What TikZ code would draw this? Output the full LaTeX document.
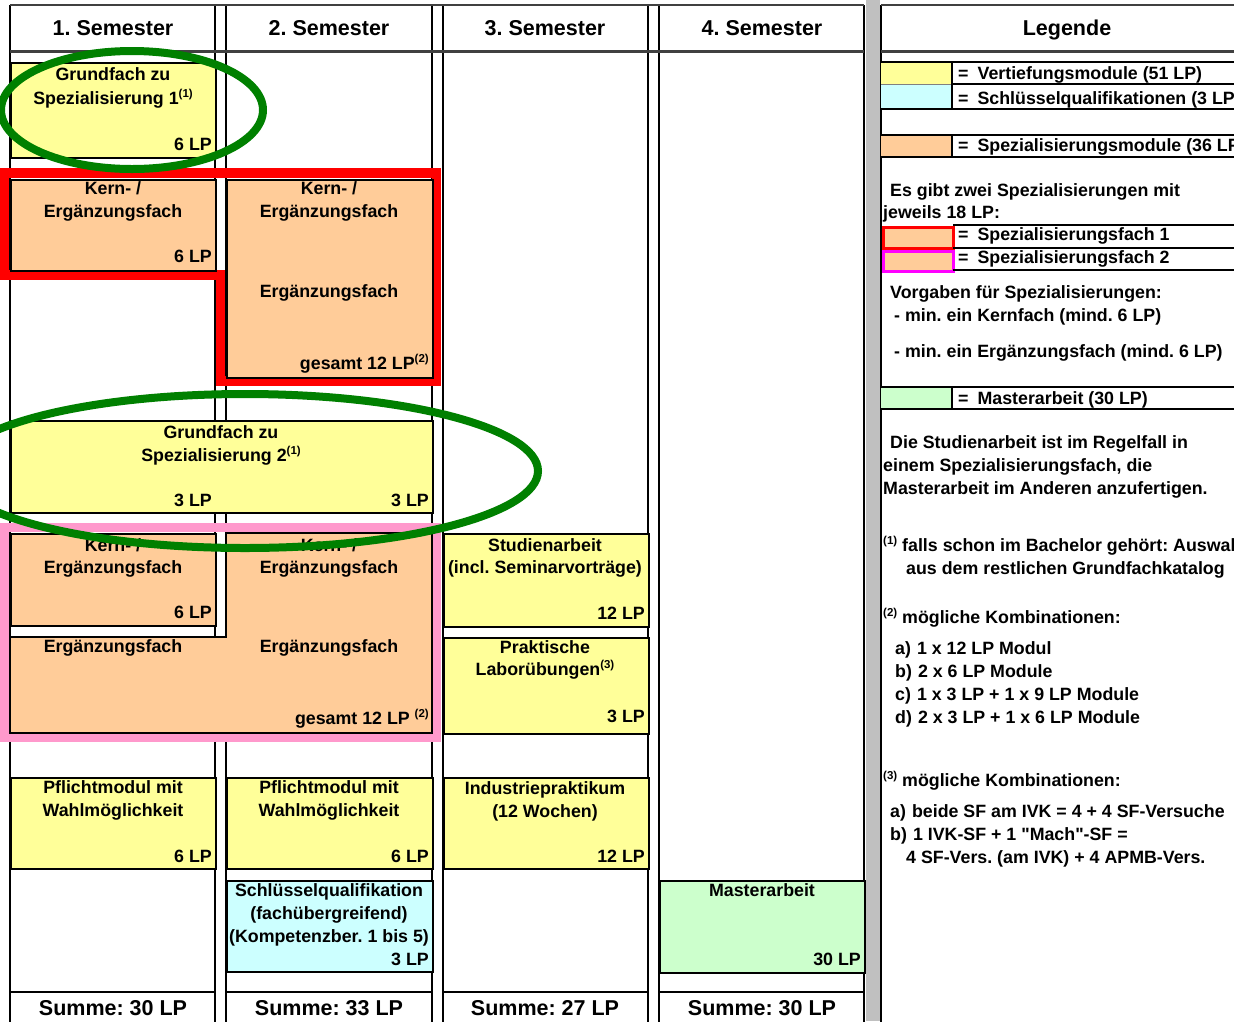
\documentclass[tikz,border=0pt]{standalone}
\usepackage{fontspec}
\setmainfont{Liberation Sans}
\definecolor{ye}{HTML}{FFFF99}
\definecolor{orf}{HTML}{FFCC99}
\definecolor{cyf}{HTML}{CCFFFF}
\definecolor{grf}{HTML}{CCFFCC}
\definecolor{pk}{HTML}{FF99CC}
\definecolor{mg}{HTML}{FF00FF}
\definecolor{dg}{HTML}{008000}
\definecolor{gb}{HTML}{C0C0C0}
\definecolor{hl}{HTML}{404040}
\newcommand{\fnm}[1]{\raisebox{7pt}{\fontsize{11.5}{12}\selectfont(#1)}}
\newcommand{\strq}{\XeTeXglyph\XeTeXcharglyph34\relax}
\frenchspacing
\begin{document}
\begin{tikzpicture}[x=1pt,y=-1pt,
 colline/.style={line width=2pt, draw=black},
 hline/.style={line width=2.5pt, draw=hl},
 box/.style={draw=black, line width=2.4pt, inner sep=0pt, anchor=north west},
 sw/.style={draw=none, inner sep=0pt, anchor=north west},
 t/.style={font=\fontsize{17.8}{21}\selectfont\bfseries, inner sep=0pt, anchor=base},
 tr/.style={t, anchor=base east},
 tl/.style={t, anchor=base west},
 hd/.style={font=\fontsize{21.5}{25}\selectfont\bfseries, inner sep=0pt, anchor=base},
 ell/.style={draw=dg, line width=8pt},
 outl/.style={line width=9.5pt, miter limit=10},
]
\useasboundingbox (0,0) rectangle (1234,1021);
\clip (0,0) rectangle (1234,1021);
\fill[white] (0,0) rectangle (1234,1021);

% gray separator bar
\fill[gb] (866,0) rectangle (880,1021);

% columns
\foreach \l/\r in {10/215,226/432,443/648,659/864}{
  \draw[colline] (\l,5) -- (\l,1030);
  \draw[colline] (\r,5) -- (\r,1030);
  \draw[colline] (\l,992) -- (\r,992);
}
\draw[hline] (10,5) -- (864,5);
\draw[hline] (10,51.5) -- (864,51.5);
\draw[colline] (881,5) -- (881,1030);
\draw[hline] (881,5) -- (1240,5);
\draw[hline] (881,51.5) -- (1240,51.5);

% headers
\node[hd] (h1) at (113,35.5) {1. Semester};
\node[hd] (h2) at (329,35.5) {2. Semester};
\node[hd] (h3) at (545,35.5) {3. Semester};
\node[hd] (h4) at (762,35.5) {4. Semester};
\node[hd] (hl) at (1067,35.5) {Legende};

% specialisation outlines
\draw[outl, draw=red] (4.5,173) -- (436.5,173) -- (436.5,381) -- (220.5,381) -- (220.5,275) -- (4.5,275) -- cycle;
\draw[outl, draw=pk] (4.5,527.5) rectangle (436.5,737.5);

% boxes
\node[box, fill=ye, minimum width=205pt, minimum height=95pt] (g1) at (10,62) {};
\node[box, fill=orf, minimum width=205pt, minimum height=91pt] (k1) at (10,178.5) {};
\node[box, fill=orf, minimum width=206pt, minimum height=198pt] (k2) at (226,178.5) {};
\node[box, fill=ye, minimum width=422pt, minimum height=92pt] (g2) at (10,420) {};
\node[box, fill=orf, minimum width=205pt, minimum height=92pt] (k3) at (10,533) {};
\draw[draw=black, line width=2.4pt, fill=orf] (226,533) -- (432,533) -- (432,733) -- (10,733) -- (10,637) -- (226,637) -- cycle;
\node[box, fill=ye, minimum width=205pt, minimum height=91pt] (p1) at (10,777) {};
\node[box, fill=ye, minimum width=206pt, minimum height=91pt] (p2) at (226,777) {};
\node[box, fill=cyf, minimum width=206pt, minimum height=91pt] (sq) at (226,880) {};
\node[box, fill=ye, minimum width=205pt, minimum height=93pt] (st) at (443,533) {};
\node[box, fill=ye, minimum width=205pt, minimum height=96pt] (pr) at (443,637) {};
\node[box, fill=ye, minimum width=205pt, minimum height=91pt] (ip) at (443,777) {};
\node[box, fill=grf, minimum width=205pt, minimum height=92pt] (ma) at (659,880) {};

% box texts
\node[t] (g1a) at (113,80) {Grundfach zu};
\node[t] (g1b) at (113,104) {Spezialisierung 1\fnm{1}};
\node[tr] (g1c) at (212,150) {6 LP};

\node[t] (k1a) at (113,194) {Kern- /};
\node[t] (k1b) at (113,217) {Ergänzungsfach};
\node[tr] (k1c) at (212,262) {6 LP};

\node[t] (k2a) at (329,194) {Kern- /};
\node[t] (k2b) at (329,217) {Ergänzungsfach};
\node[t] (k2c) at (329,297) {Ergänzungsfach};
\node[tr] (k2d) at (429,369) {gesamt 12 LP\fnm{2}};

\node[t] (g2a) at (221,438) {Grundfach zu};
\node[t] (g2b) at (221,461) {Spezialisierung 2\fnm{1}};
\node[tr] (g2c) at (212,506) {3 LP};
\node[tr] (g2d) at (429,506) {3 LP};

\node[t] (k3a) at (113,551) {Kern- /};
\node[t] (k3b) at (113,573) {Ergänzungsfach};
\node[tr] (k3c) at (212,618) {6 LP};
\node[t] (k4a) at (329,551) {Kern- /};
\node[t] (k4b) at (329,573) {Ergänzungsfach};
\node[t] (k4c) at (113,652) {Ergänzungsfach};
\node[t] (k4d) at (329,652) {Ergänzungsfach};
\node[tr] (k4e) at (429,724) {gesamt 12 LP \fnm{2}};

\node[t] (p1a) at (113,793) {Pflichtmodul mit};
\node[t] (p1b) at (113,816) {Wahlmöglichkeit};
\node[tr] (p1c) at (212,862) {6 LP};
\node[t] (p2a) at (329,793) {Pflichtmodul mit};
\node[t] (p2b) at (329,816) {Wahlmöglichkeit};
\node[tr] (p2c) at (429,862) {6 LP};

\node[t] (sqa) at (329,896) {Schlüsselqualifikation};
\node[t] (sqb) at (329,919) {(fachübergreifend)};
\node[t] (sqc) at (329,942) {(Kompetenzber. 1 bis 5)};
\node[tr] (sqd) at (429,965) {3 LP};

\node[t] (sta) at (545,551) {Studienarbeit};
\node[t] (stb) at (545,573) {(incl. Seminarvorträge)};
\node[tr] (stc) at (645,619) {12 LP};

\node[t] (pra) at (545,653) {Praktische};
\node[t] (prb) at (545,675) {Laborübungen\fnm{3}};
\node[tr] (prc) at (645,722) {3 LP};

\node[t] (ipa) at (545,794) {Industriepraktikum};
\node[t] (ipb) at (545,817) {(12 Wochen)};
\node[tr] (ipc) at (645,862) {12 LP};

\node[t] (maa) at (762,896) {Masterarbeit};
\node[tr] (mab) at (861,965) {30 LP};

% sums
\node[hd] (s1) at (113,1015.5) {Summe: 30 LP};
\node[hd] (s2) at (329,1015.5) {Summe: 33 LP};
\node[hd] (s3) at (545,1015.5) {Summe: 27 LP};
\node[hd] (s4) at (762,1015.5) {Summe: 30 LP};

% legend swatches
\node[sw, fill=ye, minimum width=70pt, minimum height=22pt] (ly) at (881,62) {};
\node[sw, fill=cyf, minimum width=70pt, minimum height=25pt] (lc) at (881,84) {};
\node[sw, fill=orf, minimum width=70pt, minimum height=22pt] (lo) at (881,135) {};
\node[sw, fill=orf, draw=red, line width=3pt, minimum width=70pt, minimum height=21pt] (lr) at (881.5,225.5) {};
\node[sw, fill=orf, draw=mg, line width=3pt, minimum width=70pt, minimum height=20pt] (lm) at (881.5,249.5) {};
\node[sw, fill=grf, minimum width=70pt, minimum height=22pt] (lg) at (881,387) {};

% legend lines
\foreach \y in {62,109,135,157,387,409}{ \draw[line width=2pt] (881,\y) -- (1240,\y); }
\foreach \y in {84,225,247.5,270}{ \draw[line width=2pt] (953,\y) -- (1240,\y); }
\draw[line width=1pt, draw=gray] (881,84) -- (951,84);
\foreach \a/\b in {62/109,135/157,387/409}{ \draw[line width=2pt] (952,\a) -- (952,\b); }

% legend texts
\node[tl] (lt1) at (958,79.5) {=\hspace{9pt}Vertiefungsmodule (51 LP)};
\node[tl] (lt2) at (958,104.5) {=\hspace{9pt}Schlüsselqualifikationen (3 LP)};
\node[tl] (lt3) at (958,151.5) {=\hspace{9pt}Spezialisierungsmodule (36 LP)};
\node[tl] (lt4) at (958,240.5) {=\hspace{9pt}Spezialisierungsfach 1};
\node[tl] (lt5) at (958,263.5) {=\hspace{9pt}Spezialisierungsfach 2};
\node[tl] (lt6) at (958,404.5) {=\hspace{9pt}Masterarbeit (30 LP)};

\node[tl] (la1) at (890,196.5) {Es gibt zwei Spezialisierungen mit};
\node[tl] (la2) at (883,218.5) {jeweils 18 LP:};
\node[tl] (lb1) at (890,298.5) {Vorgaben für Spezialisierungen:};
\node[tl] (lb2) at (894,321.5) {- min. ein Kernfach (mind. 6 LP)};
\node[tl] (lb3) at (894,357.5) {- min. ein Ergänzungsfach (mind. 6 LP)};
\node[tl] (lc1) at (890,448.5) {Die Studienarbeit ist im Regelfall in};
\node[tl] (lc2) at (883,471.5) {einem Spezialisierungsfach, die};
\node[tl] (lc3) at (883,494.5) {Masterarbeit im Anderen anzufertigen.};
\node[tl] (ld1) at (883,551.5) {\fnm{1} falls schon im Bachelor gehört: Auswahl};
\node[tl] (ld2) at (906,574.5) {aus dem restlichen Grundfachkatalog};
\node[tl] (le1) at (883,623.5) {\fnm{2} mögliche Kombinationen:};
\node[tl] (le2) at (895,654.5) {a)\hspace{6pt}1 x 12 LP Modul};
\node[tl] (le3) at (895,677.5) {b)\hspace{6pt}2 x 6 LP Module};
\node[tl] (le4) at (895,700.5) {c)\hspace{6pt}1 x 3 LP + 1 x 9 LP Module};
\node[tl] (le5) at (895,723.5) {d)\hspace{6pt}2 x 3 LP + 1 x 6 LP Module};
\node[tl] (lf1) at (883,786.5) {\fnm{3} mögliche Kombinationen:};
\node[tl] (lf2) at (890,817.5) {a)\hspace{6pt}beide SF am IVK = 4 + 4 SF-Versuche};
\node[tl] (lf3) at (890,840.5) {b)\hspace{6pt}1 IVK-SF + 1 \strq Mach\strq-SF =};
\node[tl] (lf4) at (906,863.5) {4 SF-Vers. (am IVK) + 4 APMB-Vers.};

% green ellipses
\draw[ell] (132,110) ellipse [x radius=131, y radius=59];
\draw[ell] (245,471) ellipse [x radius=293, y radius=77];
\end{tikzpicture}
\end{document}
